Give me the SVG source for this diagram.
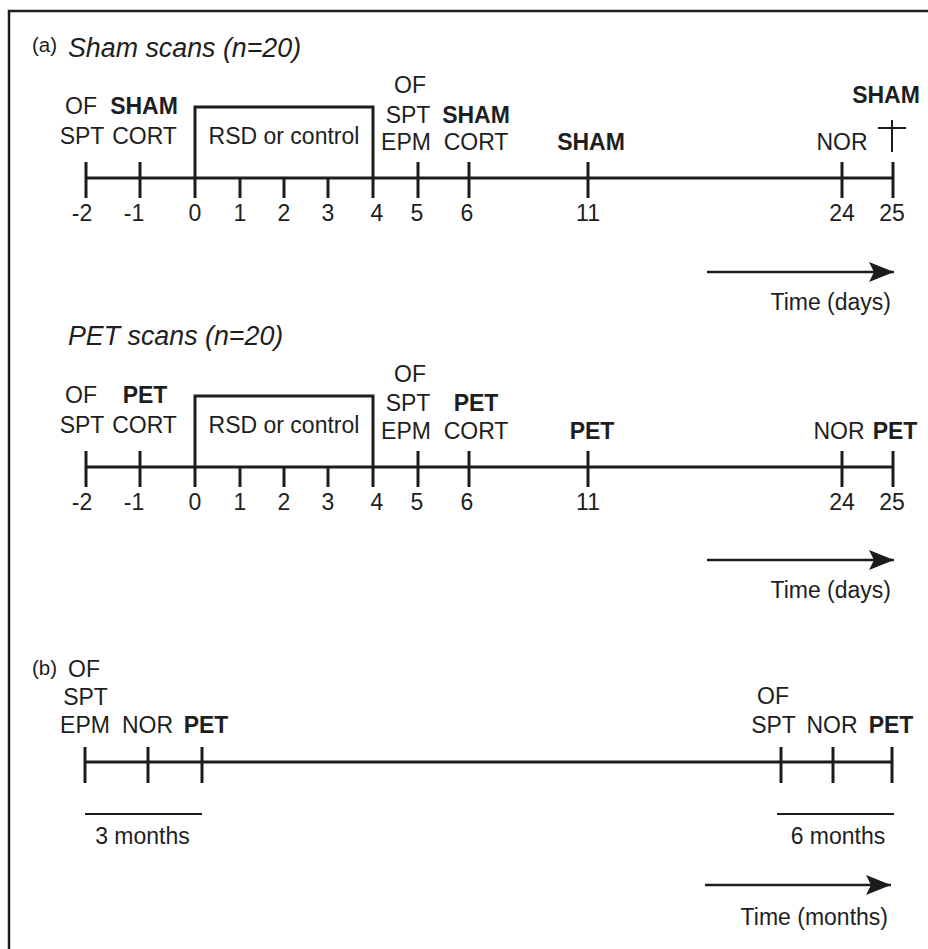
<svg xmlns="http://www.w3.org/2000/svg" width="928" height="949" viewBox="0 0 928 949">
<style>
text{font-family:"Liberation Sans",Arial,sans-serif;font-size:23px;fill:#1e1e1e;text-anchor:middle}
.b{font-weight:bold}
.t{font-style:italic;font-size:26.8px;text-anchor:start}
.p{font-size:20.5px;text-anchor:start}
.r{text-anchor:end}
.ax{stroke:#1c1c1c;stroke-width:3;fill:none}
.tk{stroke:#1c1c1c;stroke-width:3}
.thin{stroke:#1c1c1c;stroke-width:2}
.arr{stroke:#1c1c1c;stroke-width:2.5;marker-end:url(#ah)}
</style>
<defs>
<marker id="ah" markerUnits="userSpaceOnUse" markerWidth="28" markerHeight="24" refX="25" refY="11" orient="auto">
<path d="M25,11 L0,1 L5,11 L0,21 Z" fill="#1c1c1c"/>
</marker>
</defs>
<rect width="928" height="949" fill="#fff"/>
<g id="frame"><path d="M9,949 V11 H928" fill="none" stroke="#1c1c1c" stroke-width="2.5"/></g>

<!-- Panel (a) sham -->
<g id="title-a"><text class="p" x="32" y="52">(a)</text><text class="t" x="68" y="57">Sham scans (n=20)</text></g>
<g id="connectors-sham">
<line class="ax" x1="86" y1="178" x2="893" y2="178"/>
<line class="tk" x1="86" y1="162" x2="86" y2="198"/>
<line class="tk" x1="140" y1="162" x2="140" y2="198"/>
<line class="tk" x1="240" y1="178" x2="240" y2="198"/>
<line class="tk" x1="284" y1="178" x2="284" y2="198"/>
<line class="tk" x1="328" y1="178" x2="328" y2="198"/>
<line class="tk" x1="418" y1="162" x2="418" y2="198"/>
<line class="tk" x1="469" y1="162" x2="469" y2="198"/>
<line class="tk" x1="588" y1="162" x2="588" y2="198"/>
<line class="tk" x1="842" y1="162" x2="842" y2="198"/>
<line class="tk" x1="893" y1="162" x2="893" y2="198"/>
<line class="arr" x1="707" y1="272" x2="894" y2="272"/>
</g>
<g id="box-sham"><path class="ax" d="M195,198 V107 H373 V198"/><text x="284" y="144">RSD or control</text></g>
<g id="days-sham">
<text x="82" y="221">-2</text><text x="134" y="221">-1</text><text x="195" y="221">0</text><text x="240" y="221">1</text><text x="284" y="221">2</text><text x="328" y="221">3</text><text x="377" y="221">4</text><text x="417" y="221">5</text><text x="467" y="221">6</text><text x="588" y="221">11</text><text x="842" y="221">24</text><text x="892" y="221">25</text>
</g>
<g id="sham-m2"><text x="81" y="114">OF</text><text x="82" y="144">SPT</text></g>
<g id="sham-m1"><text class="b" x="144" y="114">SHAM</text><text x="144.5" y="144">CORT</text></g>
<g id="sham-d5"><text x="410" y="93">OF</text><text x="408" y="123">SPT</text><text x="406" y="150">EPM</text></g>
<g id="sham-d6"><text class="b" x="476" y="123">SHAM</text><text x="476" y="150">CORT</text></g>
<g id="sham-d11"><text class="b" x="591" y="150">SHAM</text></g>
<g id="sham-d24"><text x="842" y="150">NOR</text></g>
<g id="sham-d25"><text class="b" x="886" y="103">SHAM</text><line class="thin" x1="892" y1="120" x2="892" y2="152"/><line class="thin" x1="878" y1="128" x2="906" y2="128"/></g>
<g id="time-days-1"><text class="r" x="891" y="310">Time (days)</text></g>

<!-- Panel (a) PET -->
<g id="title-pet"><text class="t" x="68" y="345">PET scans (n=20)</text></g>
<g id="connectors-pet">
<line class="ax" x1="86" y1="467" x2="893" y2="467"/>
<line class="tk" x1="86" y1="451" x2="86" y2="487"/>
<line class="tk" x1="140" y1="451" x2="140" y2="487"/>
<line class="tk" x1="240" y1="467" x2="240" y2="487"/>
<line class="tk" x1="284" y1="467" x2="284" y2="487"/>
<line class="tk" x1="328" y1="467" x2="328" y2="487"/>
<line class="tk" x1="418" y1="451" x2="418" y2="487"/>
<line class="tk" x1="469" y1="451" x2="469" y2="487"/>
<line class="tk" x1="588" y1="451" x2="588" y2="487"/>
<line class="tk" x1="842" y1="451" x2="842" y2="487"/>
<line class="tk" x1="893" y1="451" x2="893" y2="487"/>
<line class="arr" x1="707" y1="560" x2="894" y2="560"/>
</g>
<g id="box-pet"><path class="ax" d="M195,487 V396 H373 V487"/><text x="284" y="433">RSD or control</text></g>
<g id="days-pet">
<text x="82" y="510">-2</text><text x="134" y="510">-1</text><text x="195" y="510">0</text><text x="240" y="510">1</text><text x="284" y="510">2</text><text x="328" y="510">3</text><text x="377" y="510">4</text><text x="417" y="510">5</text><text x="467" y="510">6</text><text x="588" y="510">11</text><text x="842" y="510">24</text><text x="892" y="510">25</text>
</g>
<g id="pet-m2"><text x="81" y="403">OF</text><text x="82" y="433">SPT</text></g>
<g id="pet-m1"><text class="b" x="145" y="403">PET</text><text x="144.5" y="433">CORT</text></g>
<g id="pet-d5"><text x="410" y="382">OF</text><text x="408" y="411">SPT</text><text x="406" y="439">EPM</text></g>
<g id="pet-d6"><text class="b" x="476" y="411">PET</text><text x="476" y="439">CORT</text></g>
<g id="pet-d11"><text class="b" x="592" y="439">PET</text></g>
<g id="pet-d24"><text x="839" y="439">NOR</text></g>
<g id="pet-d25"><text class="b" x="895" y="439">PET</text></g>
<g id="time-days-2"><text class="r" x="891" y="598">Time (days)</text></g>

<!-- Panel (b) -->
<g id="title-b"><text class="p" x="32" y="675">(b)</text></g>
<g id="connectors-b">
<line class="ax" x1="85" y1="762" x2="892" y2="762"/>
<line class="tk" x1="85" y1="747" x2="85" y2="783"/>
<line class="tk" x1="148" y1="747" x2="148" y2="783"/>
<line class="tk" x1="202" y1="747" x2="202" y2="783"/>
<line class="tk" x1="781" y1="747" x2="781" y2="783"/>
<line class="tk" x1="833" y1="747" x2="833" y2="783"/>
<line class="tk" x1="892" y1="747" x2="892" y2="783"/>
<line class="thin" x1="85" y1="814" x2="202" y2="814"/>
<line class="thin" x1="777" y1="814" x2="894" y2="814"/>
<line class="arr" x1="705" y1="885" x2="891" y2="885"/>
</g>
<g id="b-start"><text x="84" y="677">OF</text><text x="85.5" y="705">SPT</text><text x="85" y="733">EPM</text></g>
<g id="b-nor1"><text x="147.5" y="733">NOR</text></g>
<g id="b-pet1"><text class="b" x="206" y="733">PET</text></g>
<g id="b-3m"><text x="142.5" y="844">3 months</text></g>
<g id="b-end"><text x="773" y="704">OF</text><text x="773.5" y="733">SPT</text></g>
<g id="b-nor2"><text x="832" y="733">NOR</text></g>
<g id="b-pet2"><text class="b" x="891" y="733">PET</text></g>
<g id="b-6m"><text x="838" y="844">6 months</text></g>
<g id="time-months"><text class="r" x="888" y="925">Time (months)</text></g>
</svg>
